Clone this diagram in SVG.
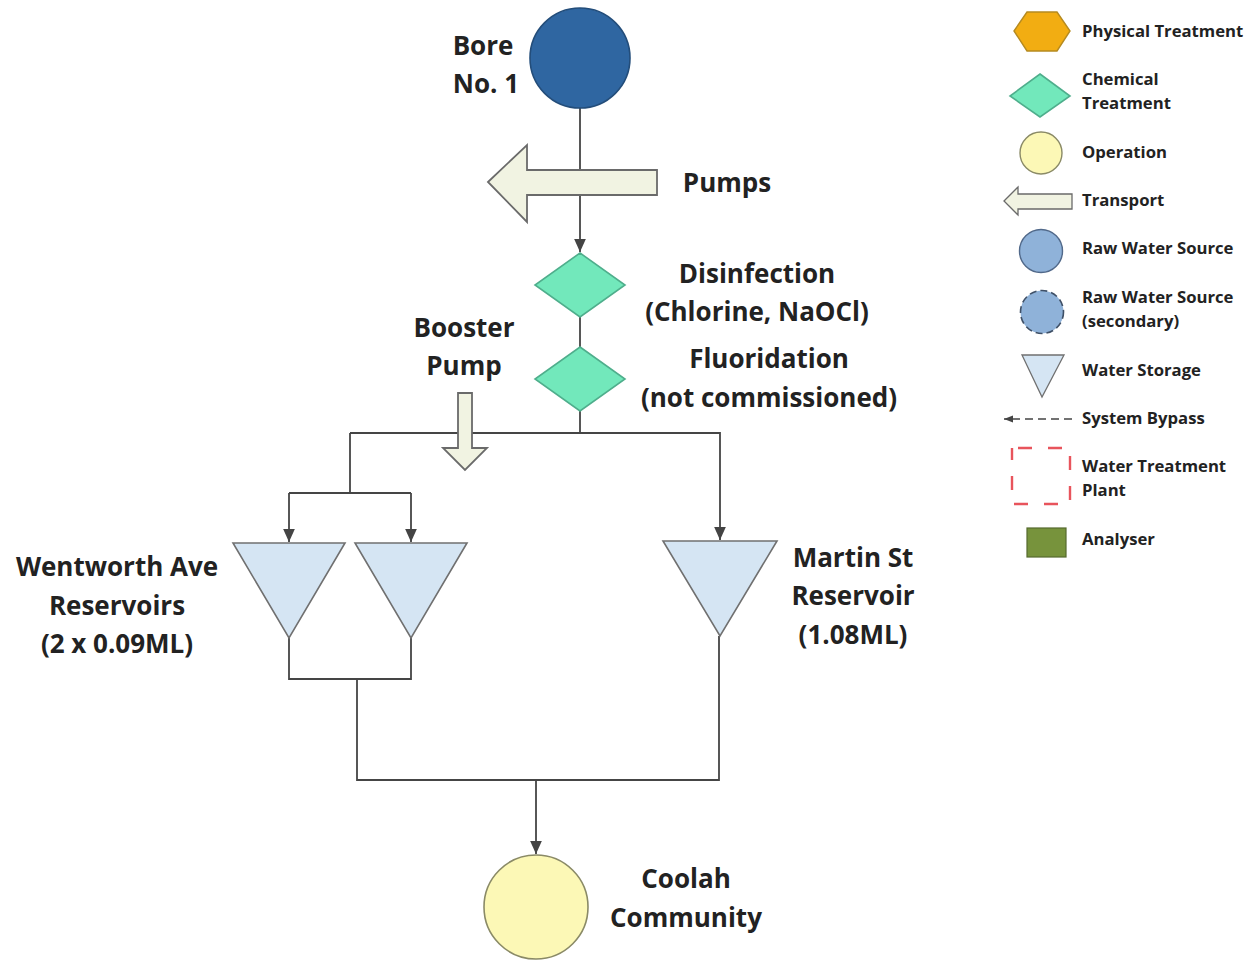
<svg xmlns="http://www.w3.org/2000/svg" width="1256" height="961" viewBox="0 0 1256 961">
<defs>
<marker id="ah" viewBox="0 0 10 10" refX="10" refY="5" markerWidth="7.5" markerHeight="7.5" orient="auto" markerUnits="strokeWidth">
<path d="M0,0.5 L10,5 L0,9.5 Z" fill="#444"/>
</marker>
<marker id="ahs" viewBox="0 0 10 10" refX="10" refY="5" markerWidth="6" markerHeight="6" orient="auto" markerUnits="strokeWidth">
<path d="M0,1 L10,5 L0,9 Z" fill="#444"/>
</marker>
</defs>
<style>
.lbl{font-family:"Open Sans","Liberation Sans",Arial,sans-serif;font-weight:bold;font-size:26px;fill:#222;text-anchor:middle}
.leg{font-family:"Open Sans","Liberation Sans",Arial,sans-serif;font-weight:bold;font-size:16.7px;fill:#222}
.con{fill:none;stroke:#454545;stroke-width:1.8}
.tri{fill:#d5e5f3;stroke:#707070;stroke-width:1.6}
.dia{fill:#72e8bb;stroke:#4fae8c;stroke-width:1.6}
.arr{fill:#f1f3e2;stroke:#6a6a6a;stroke-width:1.8}
</style>
<rect width="1256" height="961" fill="#fff"/>

<g id="connectors">
<path class="con" d="M580,108 V252" marker-end="url(#ah)"/>
<path class="con" d="M580,317 V347"/>
<path class="con" d="M580,410 V433"/>
<path class="con" d="M350,433 H720 V540" marker-end="url(#ah)"/>
<path class="con" d="M350,433 V493"/>
<path class="con" d="M289,493 H411"/>
<path class="con" d="M289,493 V542" marker-end="url(#ah)"/>
<path class="con" d="M411,493 V542" marker-end="url(#ah)"/>
<path class="con" d="M289,638 V679 H411 V638"/>
<path class="con" d="M357,679 V780 H719 V636"/>
<path class="con" d="M536,780 V854" marker-end="url(#ah)"/>
</g>

<g id="bore">
<circle cx="580" cy="58" r="50" fill="#2f66a1" stroke="#234d7a" stroke-width="1.6"/>
<text class="lbl" x="483" y="55">Bore</text>
<text class="lbl" x="486" y="93">No. 1</text>
</g>

<g id="pumps">
<polygon class="arr" points="488,182 527,145 527,170 657,170 657,195 527,195 527,222"/>
<text class="lbl" x="727" y="192">Pumps</text>
</g>

<g id="disinfection">
<polygon class="dia" points="580,253 625,285 580,317 535,285"/>
<text class="lbl" x="757" y="283">Disinfection</text>
<text class="lbl" x="757" y="321">(Chlorine, NaOCl)</text>
</g>

<g id="fluoridation">
<polygon class="dia" points="580,347 625,379 580,411 535,379"/>
<text class="lbl" x="769" y="368">Fluoridation</text>
<text class="lbl" x="769" y="407">(not commissioned)</text>
</g>

<g id="booster">
<polygon class="arr" points="458,393 472,393 472,448 487,448 465,470 443,448 458,448"/>
<text class="lbl" x="464" y="337">Booster</text>
<text class="lbl" x="464" y="375">Pump</text>
</g>

<g id="wentworth">
<polygon class="tri" points="233,543 345,543 289,638"/>
<polygon class="tri" points="355,543 467,543 411,638"/>
<text class="lbl" x="117" y="576">Wentworth Ave</text>
<text class="lbl" x="117" y="615">Reservoirs</text>
<text class="lbl" x="117" y="653">(2 x 0.09ML)</text>
</g>

<g id="martin">
<polygon class="tri" points="663,541 777,541 720,636"/>
<text class="lbl" x="853" y="567">Martin St</text>
<text class="lbl" x="853" y="605">Reservoir</text>
<text class="lbl" x="853" y="644">(1.08ML)</text>
</g>

<g id="coolah">
<circle cx="536" cy="907" r="52" fill="#fcf8b6" stroke="#8a8a66" stroke-width="1.6"/>
<text class="lbl" x="686" y="888">Coolah</text>
<text class="lbl" x="686" y="927">Community</text>
</g>

<g id="legend">
<polygon points="1014,31 1027,12 1057,12 1070,31 1057,51 1027,51" fill="#f2ad12" stroke="#b58a20" stroke-width="1.4"/>
<text class="leg" x="1082" y="37">Physical Treatment</text>
<polygon points="1040,74 1070,96 1040,117 1010,96" class="dia"/>
<text class="leg" x="1082" y="85">Chemical</text>
<text class="leg" x="1082" y="109">Treatment</text>
<circle cx="1041" cy="153" r="21" fill="#fcf8b6" stroke="#8a8a66" stroke-width="1.4"/>
<text class="leg" x="1082" y="158">Operation</text>
<polygon class="arr" points="1004,201 1018,187 1018,194 1072,194 1072,209 1018,209 1018,215" style="stroke-width:1.3"/>
<text class="leg" x="1082" y="206">Transport</text>
<circle cx="1041" cy="251" r="21.5" fill="#8fb2d9" stroke="#51698a" stroke-width="1.4"/>
<text class="leg" x="1082" y="254">Raw Water Source</text>
<circle cx="1042" cy="312" r="21.5" fill="#8fb2d9" stroke="#3f5067" stroke-width="1.6" stroke-dasharray="7,4"/>
<text class="leg" x="1082" y="303">Raw Water Source</text>
<text class="leg" x="1082" y="327">(secondary)</text>
<polygon class="tri" points="1022,355 1064,355 1042,397" style="stroke-width:1.3"/>
<text class="leg" x="1082" y="376">Water Storage</text>
<path d="M1072,419 H1004" fill="none" stroke="#444" stroke-width="1.5" stroke-dasharray="8,5" marker-end="url(#ahs)"/>
<text class="leg" x="1082" y="424">System Bypass</text>
<rect x="1012" y="448" width="58" height="56" fill="none" stroke="#e8545c" stroke-width="2.4" stroke-dasharray="14,16" stroke-dashoffset="-6"/>
<text class="leg" x="1082" y="472">Water Treatment</text>
<text class="leg" x="1082" y="496">Plant</text>
<rect x="1027" y="528" width="39" height="29" fill="#77933c" stroke="#55692d" stroke-width="1.2"/>
<text class="leg" x="1082" y="545">Analyser</text>
</g>
</svg>
